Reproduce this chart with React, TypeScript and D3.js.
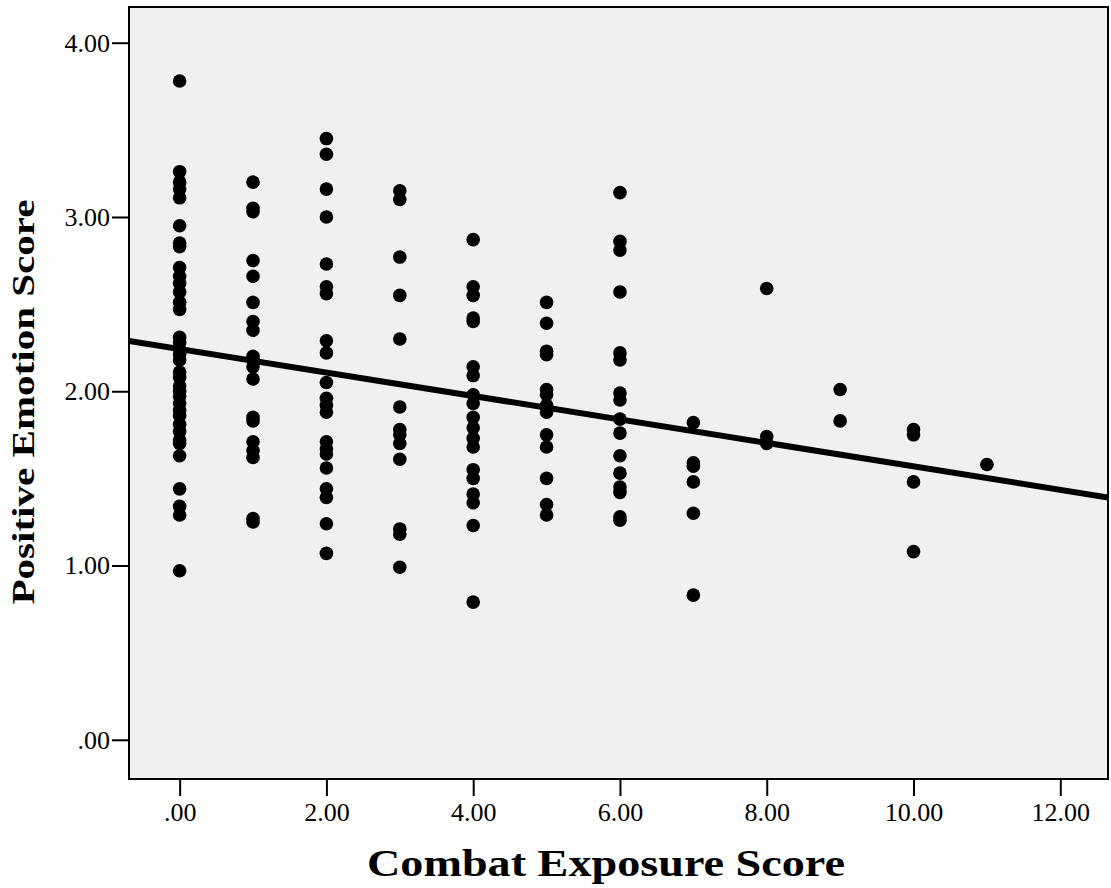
import { useEffect, useRef } from 'react';
import * as d3 from 'd3';

// combat exposure score of each column of points
const exposure = [0, 1, 2, 3, 4, 5, 6, 7, 8, 9, 10, 11];

// positive emotion scores, one list per exposure score
const scores0 = [3.78, 3.26, 3.20, 3.16, 3.11, 2.95, 2.85, 2.83, 2.71, 2.66, 2.62, 2.57, 2.51, 2.47, 2.31, 2.28, 2.24, 2.21, 2.18, 2.11, 2.08, 2.03, 2.00, 1.97, 1.93, 1.89, 1.86, 1.81, 1.77, 1.72, 1.70, 1.63, 1.44, 1.34, 1.29, 0.97];
const scores1 = [3.20, 3.05, 3.03, 2.75, 2.66, 2.51, 2.40, 2.35, 2.20, 2.18, 2.14, 2.07, 1.85, 1.83, 1.71, 1.66, 1.62, 1.27, 1.25];
const scores2 = [3.45, 3.36, 3.16, 3.00, 2.73, 2.60, 2.56, 2.29, 2.22, 2.05, 1.96, 1.92, 1.88, 1.71, 1.67, 1.64, 1.56, 1.44, 1.39, 1.24, 1.07];
const scores3 = [3.15, 3.10, 2.77, 2.55, 2.30, 1.91, 1.78, 1.75, 1.70, 1.61, 1.21, 1.18, 0.99];
const scores4 = [2.87, 2.60, 2.55, 2.42, 2.40, 2.14, 2.09, 1.98, 1.93, 1.85, 1.79, 1.73, 1.68, 1.55, 1.50, 1.41, 1.36, 1.23, 0.79];
const scores5 = [2.51, 2.39, 2.23, 2.21, 2.01, 1.98, 1.92, 1.88, 1.75, 1.68, 1.50, 1.35, 1.29];
const scores6 = [3.14, 2.86, 2.81, 2.57, 2.22, 2.18, 1.99, 1.95, 1.84, 1.76, 1.63, 1.53, 1.45, 1.42, 1.28, 1.26];
const scores7 = [1.82, 1.59, 1.57, 1.48, 1.30, 0.83];
const scores8 = [2.59, 1.74, 1.70];
const scores9 = [2.01, 1.83];
const scores10 = [1.78, 1.75, 1.48, 1.08];
const scores11 = [1.58];
const allScores = [scores0, scores1, scores2, scores3, scores4, scores5, scores6, scores7, scores8, scores9, scores10, scores11];

// fit line: intercept and slope
const fitIntercept = 2.242;
const fitSlope = -0.0673;

const xTicks = [0, 2, 4, 6, 8, 10, 12];
const yTicks = [0, 1, 2, 3, 4];
const fmt = (d: number) => d3.format('.2f')(d).replace(/^0\./, '.');

const App = () => {
  const ref = useRef<SVGSVGElement>(null);

  useEffect(() => {
    document.body.style.margin = '0';
    const width = 1111, height = 888;
    const margin = { top: 7, right: 3, bottom: 109, left: 129 };
    const svg = d3.select(ref.current);
    svg.selectAll('*').remove();
    svg.attr('width', width).attr('height', height);

    const x = d3.scaleLinear()
      .domain([-0.69, 12.65])
      .range([margin.left, width - margin.right]);
    const y = d3.scaleLinear()
      .domain([-0.225, 4.205])
      .range([height - margin.bottom, margin.top]);

    const font = '"Liberation Serif", "Times New Roman", serif';

    svg.append('defs').append('clipPath').attr('id', 'plotclip')
      .append('rect')
      .attr('x', margin.left).attr('y', margin.top)
      .attr('width', width - margin.right - margin.left)
      .attr('height', height - margin.bottom - margin.top);

    svg.append('rect')
      .attr('x', margin.left).attr('y', margin.top)
      .attr('width', width - margin.right - margin.left)
      .attr('height', height - margin.bottom - margin.top)
      .attr('fill', '#f0f0f0');

    const points = exposure.flatMap((e, i) => allScores[i].map(s => ({ e, s })));

    const plot = svg.append('g').attr('clip-path', 'url(#plotclip)');

    plot.selectAll('circle')
      .data(points)
      .enter()
      .append('circle')
      .attr('cx', d => x(d.e))
      .attr('cy', d => y(d.s))
      .attr('r', 6.8)
      .attr('fill', '#000');

    const [x0, x1] = x.domain();
    plot.append('line')
      .attr('x1', x(x0)).attr('y1', y(fitIntercept + fitSlope * x0))
      .attr('x2', x(x1)).attr('y2', y(fitIntercept + fitSlope * x1))
      .attr('stroke', '#000')
      .attr('stroke-width', 6);

    // frame
    svg.append('rect')
      .attr('x', margin.left).attr('y', margin.top)
      .attr('width', width - margin.right - margin.left)
      .attr('height', height - margin.bottom - margin.top)
      .attr('fill', 'none')
      .attr('stroke', '#000')
      .attr('stroke-width', 2);

    const xAxis = svg.append('g')
      .attr('transform', `translate(0,${height - margin.bottom})`)
      .call(d3.axisBottom(x).tickValues(xTicks).tickFormat(d => fmt(+d)).tickSize(17).tickPadding(7));
    const yAxis = svg.append('g')
      .attr('transform', `translate(${margin.left},0)`)
      .call(d3.axisLeft(y).tickValues(yTicks).tickFormat(d => fmt(+d)).tickSize(17).tickPadding(2));

    [xAxis, yAxis].forEach(g => {
      g.select('.domain').remove();
      g.selectAll('line').attr('stroke', '#000').attr('stroke-width', 2);
      g.selectAll('text')
        .attr('fill', '#000')
        .style('font-family', font)
        .style('font-size', '26px');
    });

    // axis titles: the source font is wider than Liberation Serif, so stretch to its length
    svg.append('text')
      .attr('x', 606).attr('y', 876)
      .attr('text-anchor', 'middle')
      .attr('textLength', 478)
      .attr('lengthAdjust', 'spacingAndGlyphs')
      .style('font-family', font)
      .style('font-weight', 'bold')
      .style('font-size', '38px')
      .text('Combat Exposure Score');

    svg.append('text')
      .attr('transform', `translate(34,${402}) rotate(-90)`)
      .attr('text-anchor', 'middle')
      .attr('textLength', 405)
      .attr('lengthAdjust', 'spacingAndGlyphs')
      .style('font-family', font)
      .style('font-weight', 'bold')
      .style('font-size', '32px')
      .text('Positive Emotion Score');
  }, []);

  return <svg ref={ref} style={{ display: 'block' }}></svg>;
};

export default App;
